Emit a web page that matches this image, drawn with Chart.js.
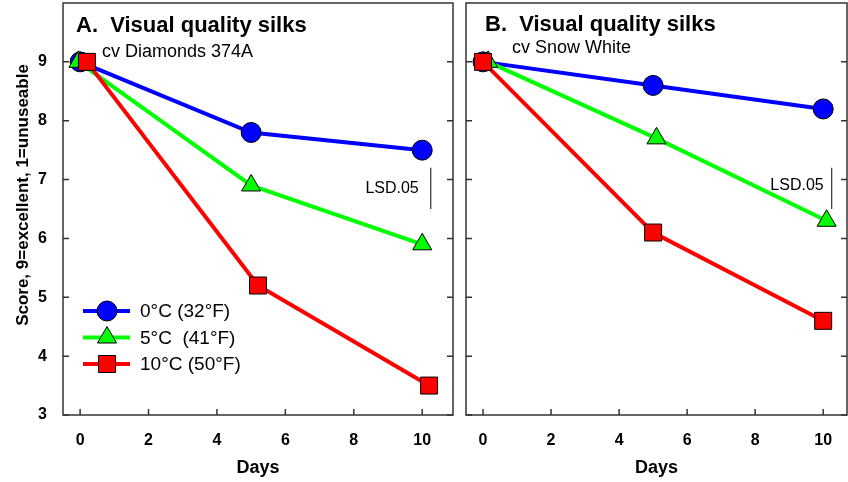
<!DOCTYPE html>
<html>
<head>
<meta charset="utf-8">
<title>Visual quality silks</title>
<script src="https://cdn.jsdelivr.net/npm/chart.js@4.4.1/dist/chart.umd.min.js"></script>
<style>
body { margin: 0; background: #fff; }
#wrap { position: relative; width: 848px; height: 482px; }
canvas { position: absolute; top: 0; }
#chartA { left: 0; }
#chartB { left: 460px; }
</style>
</head>
<body>
<div id="wrap">
<canvas id="chartA" width="460" height="482"></canvas>
<canvas id="chartB" width="388" height="482"></canvas>
</div>
<script>
"use strict";

const seriesLabels = ['0°C (32°F)', '5°C  (41°F)', '10°C (50°F)'];
const seriesColors = ['#0000ff', '#00ff00', '#ff0000'];
const seriesMarkers = ['circle', 'triangle', 'rect'];
const seriesRadius = [10, 11, 12];
const xTickValues = [0, 2, 4, 6, 8, 10];
const yTickValues = [3, 4, 5, 6, 7, 8, 9];

// A: cv Diamonds 374A
const daysBlueA = [0, 5, 10];
const scoreBlueA = [9, 7.8, 7.5];
const daysGreenA = [-0.05, 5, 10];
const scoreGreenA = [9, 6.9, 5.9];
const daysRedA = [0.2, 5.2, 10.2];
const scoreRedA = [9, 5.2, 3.5];

// B: cv Snow White
const daysBlueB = [0, 5, 10];
const scoreBlueB = [9, 8.6, 8.2];
const daysGreenB = [0.15, 5.1, 10.1];
const scoreGreenB = [9, 7.7, 6.3];
const daysRedB = [0, 5, 10];
const scoreRedB = [9, 6.1, 4.6];

// LSD bar (same in both panels)
const lsdDay = 10.25;
const lsdLow = 6.5;
const lsdHigh = 7.2;

const FONT = 'Arial, "Liberation Sans", sans-serif';
Chart.defaults.font.family = FONT;
Chart.defaults.color = '#000';

function toPoints(xs, ys) {
	return xs.map(function(x, i) { return {x: x, y: ys[i]}; });
}

// chart area is fixed by hand, so drop the label overhang padding
function noPadding(ax) {
	ax.paddingLeft = 0;
	ax.paddingRight = 0;
	ax.paddingTop = 0;
	ax.paddingBottom = 0;
}

function drawMarker(ctx, style, x, y, r) {
	ctx.beginPath();
	if (style === 'circle') {
		ctx.arc(x, y, r, 0, Math.PI * 2);
	} else if (style === 'triangle') {
		ctx.moveTo(x, y - r);
		ctx.lineTo(x + r * Math.sin(2 * Math.PI / 3), y + r * 0.5);
		ctx.lineTo(x - r * Math.sin(2 * Math.PI / 3), y + r * 0.5);
		ctx.closePath();
	} else {
		const s = r * Math.SQRT1_2;
		ctx.rect(x - s, y - s, 2 * s, 2 * s);
	}
	ctx.fill();
	ctx.stroke();
}

const panelDecor = {
	id: 'panelDecor',
	beforeDatasetsDraw: function(chart) {
		const ctx = chart.ctx;
		const a = chart.chartArea;
		const xs = chart.scales.x;
		const ys = chart.scales.y;
		ctx.save();
		ctx.strokeStyle = '#333';
		ctx.lineWidth = 1.5;
		ctx.strokeRect(a.left, a.top, a.right - a.left, a.bottom - a.top);
		ctx.beginPath();
		ys.ticks.forEach(function(t) {
			const py = ys.getPixelForValue(t.value);
			ctx.moveTo(a.left, py);
			ctx.lineTo(a.left + 6, py);
			ctx.moveTo(a.right, py);
			ctx.lineTo(a.right - 6, py);
		});
		xs.ticks.forEach(function(t) {
			const px = xs.getPixelForValue(t.value);
			ctx.moveTo(px, a.bottom);
			ctx.lineTo(px, a.bottom - 6);
		});
		ctx.stroke();
		ctx.restore();
	},
	afterDraw: function(chart, args, opts) {
		const ctx = chart.ctx;
		const a = chart.chartArea;
		const xs = chart.scales.x;
		const ys = chart.scales.y;
		ctx.save();
		ctx.fillStyle = '#000';
		ctx.textAlign = 'left';
		ctx.textBaseline = 'alphabetic';
		ctx.font = 'bold 22px ' + FONT;
		ctx.fillText(opts.title, a.left + opts.titleDx, opts.titleY);
		ctx.font = '18px ' + FONT;
		ctx.fillText(opts.subtitle, a.left + opts.subDx, opts.subY);

		// LSD label
		ctx.font = '16px ' + FONT;
		ctx.textAlign = 'right';
		ctx.textBaseline = 'middle';
		ctx.fillText('LSD.05', xs.getPixelForValue(lsdDay) - opts.lsdGap, ys.getPixelForValue((lsdLow + lsdHigh) / 2) + opts.lsdDy);

		if (opts.yTitle) {
			ctx.save();
			ctx.translate(23, 195);
			ctx.rotate(-Math.PI / 2);
			ctx.textAlign = 'center';
			ctx.font = 'bold 17px ' + FONT;
			ctx.fillText(opts.yTitle, 0, 0);
			ctx.restore();
		}

		if (opts.legend) {
			seriesLabels.forEach(function(lbl, i) {
				const y = 311 + i * 26.5;
				ctx.strokeStyle = seriesColors[i];
				ctx.lineWidth = 4;
				ctx.beginPath();
				ctx.moveTo(83, y);
				ctx.lineTo(130, y);
				ctx.stroke();
				ctx.fillStyle = seriesColors[i];
				ctx.strokeStyle = '#000';
				ctx.lineWidth = 1;
				drawMarker(ctx, seriesMarkers[i], 107, y, seriesRadius[i]);
				ctx.fillStyle = '#000';
				ctx.textAlign = 'left';
				ctx.textBaseline = 'middle';
				ctx.font = '19px ' + FONT;
				ctx.fillText(lbl, 140, y + 1);
			});
		}
		ctx.restore();
	}
};

function series(i, xs, ys) {
	return {
		label: seriesLabels[i],
		data: toPoints(xs, ys),
		showLine: true,
		borderColor: seriesColors[i],
		borderWidth: 4,
		backgroundColor: seriesColors[i],
		pointStyle: seriesMarkers[i],
		pointRadius: seriesRadius[i],
		pointBackgroundColor: seriesColors[i],
		pointBorderColor: '#000',
		pointBorderWidth: 1,
		tension: 0,
		clip: false,
		order: 3 - i,
	};
}

function makePanel(id, sets, cfg) {
	return new Chart(document.getElementById(id), {
		type: 'scatter',
		data: {
			datasets: sets.concat([{
				label: 'LSD.05',
				data: [{x: lsdDay, y: lsdLow}, {x: lsdDay, y: lsdHigh}],
				showLine: true,
				borderColor: '#333',
				borderWidth: 1.2,
				pointRadius: 0,
				order: 0,
			}])
		},
		options: {
			responsive: false,
			animation: false,
			layout: {
				autoPadding: false,
				padding: {left: 0, top: 3, right: cfg.padRight, bottom: 0}
			},
			scales: {
				x: {
					type: 'linear',
					min: -0.5,
					max: cfg.xMax,
					afterBuildTicks: function(ax) {
						ax.ticks = xTickValues.map(function(v) { return {value: v}; });
					},
					afterFit: function(ax) {
						ax.height = 67;
						noPadding(ax);
					},
					ticks: {
						font: {size: 16, weight: 'bold'},
						color: '#000',
						padding: 8,
						maxRotation: 0,
					},
					grid: {display: false},
					border: {display: false},
					title: {
						display: true,
						text: 'Days',
						font: {size: 18, weight: 'bold'},
						color: '#000',
						padding: {top: 0, bottom: 3},
					}
				},
				y: {
					type: 'linear',
					min: 3,
					max: 10,
					afterBuildTicks: function(ax) {
						ax.ticks = yTickValues.map(function(v) { return {value: v}; });
					},
					afterFit: function(ax) {
						ax.width = cfg.yWidth;
						noPadding(ax);
					},
					ticks: {
						display: cfg.yLabels,
						font: {size: 16, weight: 'bold'},
						color: '#000',
						padding: 8,
					},
					grid: {display: false},
					border: {display: false},
				}
			},
			plugins: {
				legend: {display: false},
				tooltip: {enabled: false},
				panelDecor: cfg.decor,
			}
		},
		plugins: [panelDecor]
	});
}

makePanel('chartA', [
	series(0, daysBlueA, scoreBlueA),
	series(1, daysGreenA, scoreGreenA),
	series(2, daysRedA, scoreRedA),
], {
	xMax: 10.9,
	padRight: 7,
	yWidth: 63,
	yLabels: true,
	decor: {
		title: 'A.  Visual quality silks',
		subtitle: 'cv Diamonds 374A',
		titleDx: 13, titleY: 32,
		subDx: 39, subY: 57,
		lsdGap: 12, lsdDy: 0,
		legend: true,
		yTitle: 'Score, 9=excellent, 1=unuseable',
	}
});

makePanel('chartB', [
	series(0, daysBlueB, scoreBlueB),
	series(1, daysGreenB, scoreGreenB),
	series(2, daysRedB, scoreRedB),
], {
	xMax: 10.7,
	padRight: 1,
	yWidth: 6,
	yLabels: false,
	decor: {
		title: 'B.  Visual quality silks',
		subtitle: 'cv Snow White',
		titleDx: 19, titleY: 31,
		subDx: 46, subY: 53,
		lsdGap: 8, lsdDy: -3,
		legend: false,
		yTitle: '',
	}
});
</script>
</body>
</html>
